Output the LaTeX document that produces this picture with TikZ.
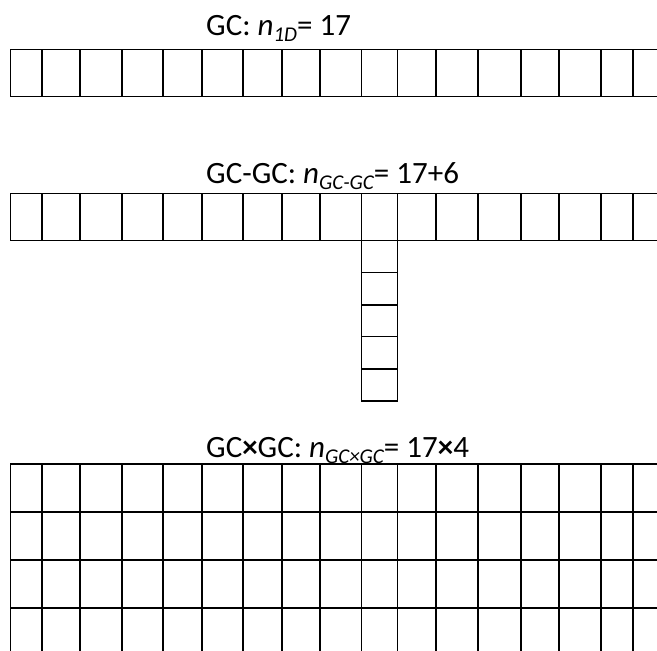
\documentclass[tikz,border=0pt]{standalone}
\usepackage{fontspec}
\setmainfont{Carlito}
\newcommand\lowsub[1]{\raisebox{-0.22em}{\fontsize{21}{21}\selectfont\itshape #1}}
\newcommand\bx{\textbf{×}}
\begin{document}
\begin{tikzpicture}[x=1pt,y=-1pt,
  gridline/.style={line width=1.3pt,line cap=rect,black},
  title/.style={anchor=base west,inner sep=0pt,font=\fontsize{31}{31}\selectfont}]
\useasboundingbox (0,0) rectangle (657,651);
\def\xs{10.5,42,80,122,163,202,243,282,320,361.7,397.7,436,478,521,559,601,633}
% Row 1
\node[title] (t1) at (206,35) {GC: \textit{n}\lowsub{1D}= 17};
\draw[gridline] (657,49.3) -- (10.5,49.3) -- (10.5,96.7) -- (657,96.7);
\foreach \x in \xs {\draw[gridline] (\x,49.3) -- (\x,96.7);}
% Row 2
\node[title] (t2) at (206,183) {GC-GC: \textit{n}\lowsub{GC-GC}= 17+6};
\draw[gridline] (657,193.3) -- (10.5,193.3) -- (10.5,240.7) -- (657,240.7);
\foreach \x in \xs {\draw[gridline] (\x,193.3) -- (\x,240.7);}
\draw[gridline] (361.7,240.7) -- (361.7,401) -- (397.7,401) -- (397.7,240.7);
\foreach \y in {272.7,305,336.7,369} {\draw[gridline] (361.7,\y) -- (397.7,\y);}
% Row 3
\node[title] (t3) at (206,457) {GC\bx GC: \textit{n}\lowsub{GC×GC}= 17\bx 4};
\foreach \y in {464,512,560,608} {\draw[gridline] (10.5,\y) -- (657,\y);}
\foreach \x in \xs {\draw[gridline] (\x,464) -- (\x,651);}
\end{tikzpicture}
\end{document}
